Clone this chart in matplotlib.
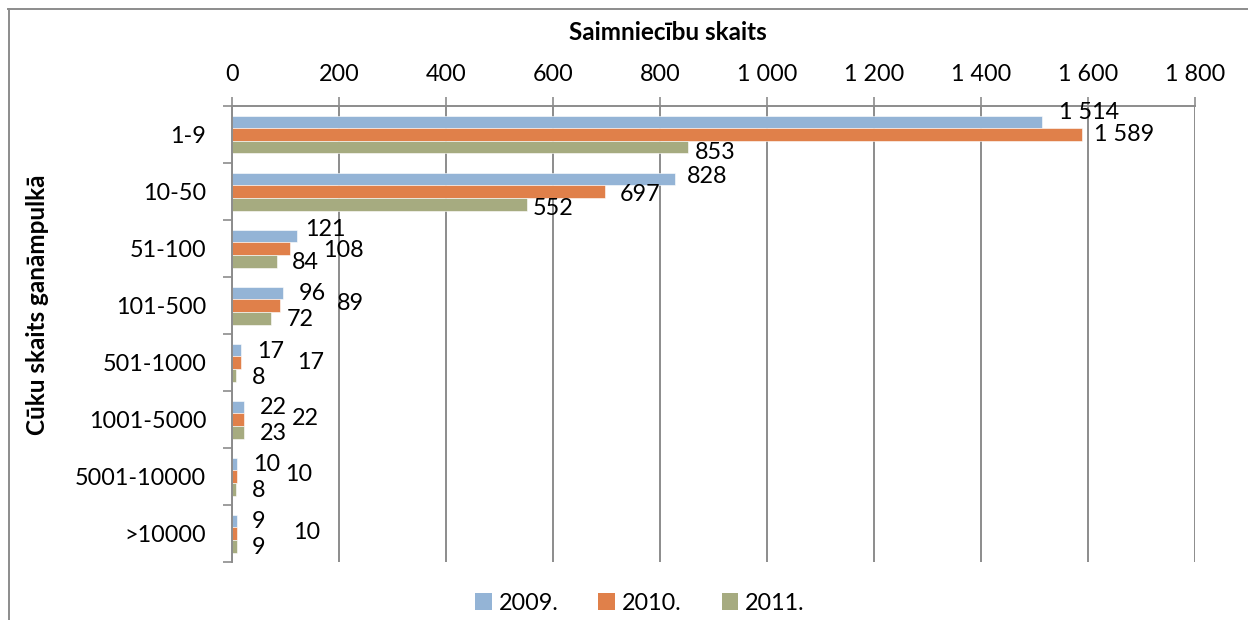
import matplotlib
matplotlib.use("Agg")
import matplotlib.pyplot as plt
from matplotlib.patches import Patch
from matplotlib.lines import Line2D
from matplotlib.ticker import FuncFormatter, FixedLocator
import numpy as np

# ---- data ----
categories = ["1-9", "10-50", "51-100", "101-500", "501-1000", "1001-5000", "5001-10000", ">10000"]
years = ["2009.", "2010.", "2011."]
v2009 = [1514, 828, 121, 96, 17, 22, 10, 9]
v2010 = [1589, 697, 108, 89, 17, 22, 10, 10]
v2011 = [853, 552, 84, 72, 8, 23, 8, 9]
xticks = [0, 200, 400, 600, 800, 1000, 1200, 1400, 1600, 1800]

# ---- style ----
colors = ["#94B4D6", "#E0804A", "#A6AB80"]
FONT = "Lato"
plt.rcParams['font.family'] = [FONT, 'DejaVu Sans']
FS = 16.8
grid_c = "#8C8C8C"

# label offsets in pixels (dx from bar end, dy from bar center, + = down)
lab_dx = [[17, 12, 8, 15, 16, 16, 16, 15],
          [12, 15, 33, 57, 56, 48, 48, 56],
          [7, 5, 15, 16, 16, 16, 16, 15]]
lab_dy = [[-9, -2, -6, 1, 2, 1, 1, 1],
          [0, 3, 2, -2, 0, -1, -2, -1],
          [5, 4, 1, 1, 2, 1, 1, 1]]

W, H = 1248, 620
fig = plt.figure(figsize=(W / 100, H / 100), dpi=100)
ax = fig.add_axes([232 / W, 1 - 562 / H, (1195 - 232) / W, (562 - 106) / H])

series = [v2009, v2010, v2011]
n = len(categories)
y = np.arange(n)
bh = 1 / 4.5
for i, vals in enumerate(series):
    ax.barh(y + (i - 1) * bh, vals, height=bh, color=colors[i], zorder=3,
            edgecolor="white", linewidth=0.4)

ax.set_xlim(0, 1800)
ax.set_ylim(n - 0.5, -0.5)

# x axis on top
ax.xaxis.tick_top()
ax.xaxis.set_major_locator(FixedLocator(xticks))
ax.xaxis.set_major_formatter(FuncFormatter(lambda v, p: f"{int(v):,}".replace(",", " ")))
ax.tick_params(axis="x", which="major", length=6.5, width=1.2, color=grid_c,
               labelsize=FS, pad=8.5)
ax.grid(axis="x", color=grid_c, linewidth=1.4, zorder=0)

# y axis
ax.set_yticks(y)
ax.set_yticklabels(categories)
ax.set_yticks(np.arange(n + 1) - 0.5, minor=True)
ax.tick_params(axis="y", which="major", length=0, labelsize=FS, pad=18.5)
ax.tick_params(axis="y", which="minor", length=6.5, width=1.2, color=grid_c)

for s in ["bottom", "right"]:
    ax.spines[s].set_visible(False)
for s in ["top", "left"]:
    ax.spines[s].set_color(grid_c)
    ax.spines[s].set_linewidth(1.4)
    ax.spines[s].set_zorder(4)

# data labels
for i, vals in enumerate(series):
    for j, v in enumerate(vals):
        ax.annotate(f"{v:,}".replace(",", " "), xy=(v, j + (i - 1) * bh),
                    xytext=(lab_dx[i][j] * 0.72, -lab_dy[i][j] * 0.72),
                    textcoords="offset points", ha="left", va="center",
                    fontsize=FS, zorder=5)

# titles
fig.text(668 / W, 1 - 33 / H, "Saimniecību skaits", ha="center", va="center",
         fontsize=17.5, fontweight="bold")
fig.text(38 / W, 1 - 305 / H, "Cūku skaits ganāmpulkā", ha="center", va="center",
         rotation=90, fontsize=17.5, fontweight="bold")

# legend
handles = [Patch(facecolor=c, edgecolor="none") for c in colors]
fig.legend(handles, years, loc="center", bbox_to_anchor=(640 / W, 1 - 603 / H),
           ncol=3, frameon=False, fontsize=FS, handlelength=0.72, handleheight=0.72,
           handletextpad=0.3, columnspacing=1.7, borderaxespad=0, borderpad=0)

# outer frame (top + left visible)
fig.add_artist(Line2D([8 / W, 1.0], [1 - 9 / H, 1 - 9 / H], color="#8C8C8C", linewidth=1.4,
                      transform=fig.transFigure))
fig.add_artist(Line2D([8.5 / W, 8.5 / W], [0, 1 - 9 / H], color="#8C8C8C", linewidth=1.4,
                      transform=fig.transFigure))

fig.savefig("out.png", dpi=100)
